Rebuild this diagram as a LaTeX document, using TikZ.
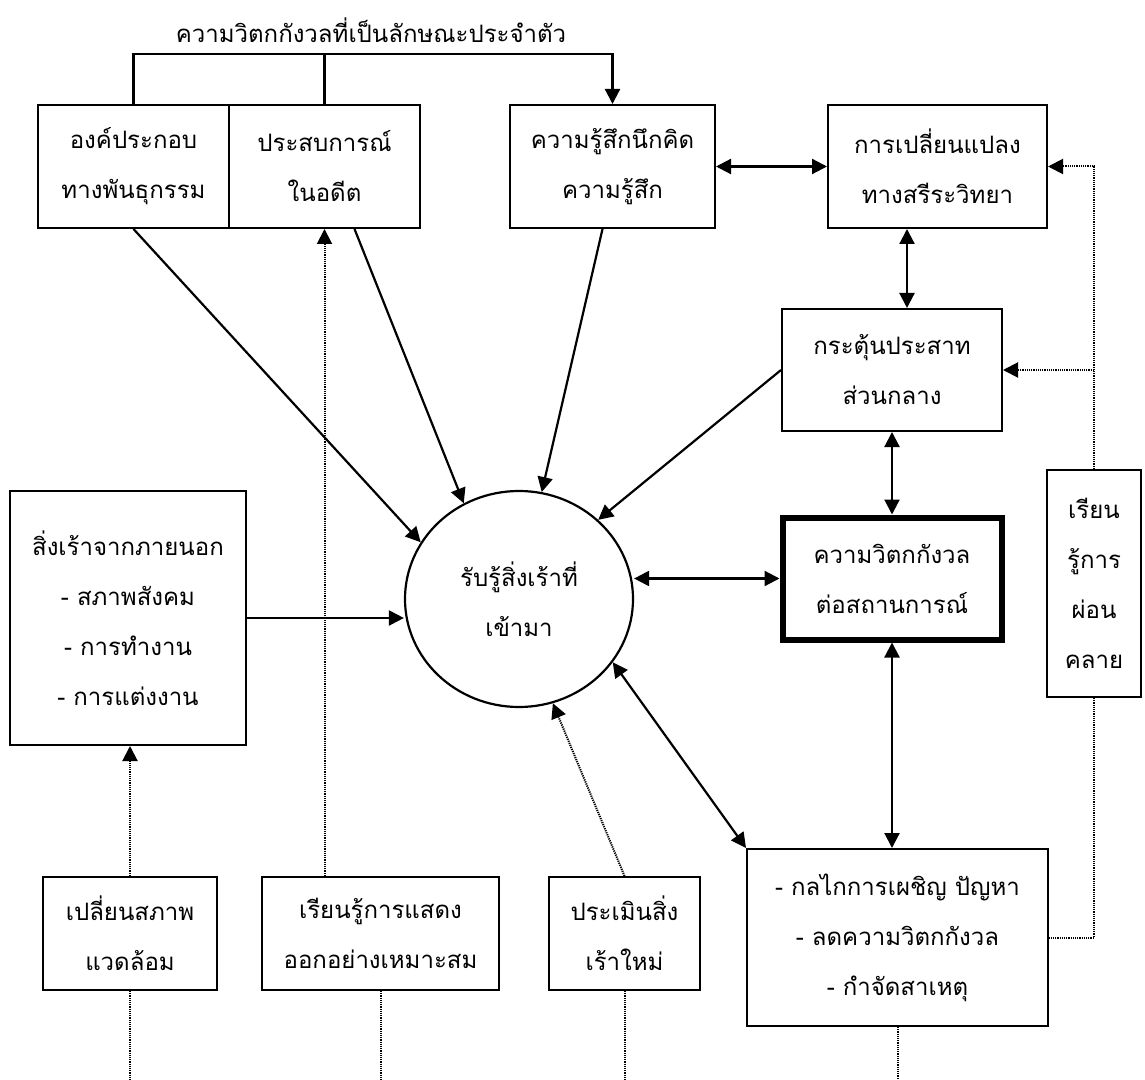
\documentclass[tikz,border=0pt]{standalone}
\usepackage{fontspec}
\newfontfamily\thaifont[Script=Thai]{Loma}
\usetikzlibrary{shapes.geometric,arrows.meta}

\begin{document}
\begin{tikzpicture}[x=0.5pt,y=-0.5pt,
  every node/.style={font=\thaifont\fontsize{12}{25}\selectfont, align=center, inner sep=0pt},%texte en thai
  boite/.style={draw, line width=1pt},%cadres simples
  fleche/.style={line width=1.1pt, -{Triangle[length=7.5pt,width=7.5pt]}},
  deuxsens/.style={line width=1.1pt, {Triangle[length=7.5pt,width=7.5pt]}-{Triangle[length=7.5pt,width=7.5pt]}},
  pointille/.style={dash pattern=on 0.6pt off 0.5pt, line width=1pt},
  pfleche/.style={pointille, -{Triangle[length=7.5pt,width=7.5pt]}}]
\useasboundingbox (0,0) rectangle (1145,1080);

% ligne du haut
\node (titre) at (371,30) {ความวิตกกังวลที่เป็นลักษณะประจำตัว};
\node (b1) at (133.5,166.5) [boite, minimum width=95.5pt, minimum height=61.5pt] {องค์ประกอบ\\ทางพันธุกรรม};
\node (b2) at (324.5,166.5) [boite, minimum width=95.5pt, minimum height=61.5pt] {ประสบการณ์\\ในอดีต};
\node (b3) at (612.5,166.5) [boite, minimum width=102.5pt, minimum height=61.5pt] {ความรู้สึกนึกคิด\\ความรู้สึก};
\node (b4) at (937.5,166.5) [boite, minimum width=109.5pt, minimum height=61.5pt] {การเปลี่ยนแปลง\\ทางสรีระวิทยา};

% milieu
\node (b5) at (892,370) [boite, minimum width=110pt, minimum height=61pt] {กระตุ้นประสาท\\ส่วนกลาง};
\node (anx) at (892,578.5) [draw, line width=3pt, minimum width=109.5pt, minimum height=61pt] {ความวิตกกังวล\\ต่อสถานการณ์};
\node (cercle) at (519,599) [draw, line width=1.1pt, ellipse, minimum width=114pt, minimum height=108pt] {รับรู้สิ่งเร้าที่\\เข้ามา};
\node (ext) at (128,618) [boite, minimum width=118pt, minimum height=127pt] {สิ่งเร้าจากภายนอก\\- สภาพสังคม\\- การทำงาน\\- การแต่งงาน};
\node (relax) at (1094,583.5) [boite, minimum width=47pt, minimum height=113.5pt] {เรียน\\รู้การ\\ผ่อน\\คลาย};

% ligne du bas
\node (env) at (130,933.5) [boite, minimum width=87pt, minimum height=56.5pt] {เปลี่ยนสภาพ\\แวดล้อม};
\node (learn) at (380.5,933.5) [boite, minimum width=118.5pt, minimum height=56.5pt] {เรียนรู้การแสดง\\ออกอย่างเหมาะสม};
\node (eval) at (624.5,933.5) [boite, minimum width=75.5pt, minimum height=56.5pt] {ประเมินสิ่ง\\เร้าใหม่};
\node (coping) at (897.5,937.5) [boite, minimum width=150.5pt, minimum height=88.5pt] {- กลไกการเผชิญ ปัญหา\\- ลดความวิตกกังวล\\- กำจัดสาเหตุ};

% fleches pleines
\draw[fleche] (b1.north) -- ++(0,-50) -| (b3.north);
\draw[line width=1.1pt] (b2.north) -- ++(0,-50);
\draw[deuxsens] (b3.east) -- (b4.west);
\coordinate (h5) at ([xshift=7.5pt]b5.north);
\draw[deuxsens] (h5) -- (h5 |- b4.south);
\draw[deuxsens] (b5.south) -- (anx.north);
\draw[deuxsens] (anx.south) -- (anx.south |- coping.north);
\draw[deuxsens] (cercle.east |- anx.west) -- (anx.west);
\draw[fleche] (ext.east) -- (ext.east -| cercle.west);
\draw[fleche] (b1.south) -- (cercle.150);
\draw[fleche] ([xshift=15pt]b2.south) -- (cercle.120);
\draw[fleche] ([xshift=-5pt]b3.south) -- (cercle.78);
\draw[fleche] (b5.west) -- (cercle.45);
\draw[deuxsens] (cercle.-34) -- (coping.north west);

% pointilles
\draw[pfleche] (eval.north) -- (cercle.-72);
\draw[pfleche] (b2.south |- learn.north) -- (b2.south);
\draw[pfleche] (env.north) -- (env.north |- ext.south);
\draw[pfleche] (relax.north) |- (b4.east);
\draw[pfleche] (relax.north |- b5.east) -- (b5.east);
\draw[pointille] (relax.south) |- (coping.east);
\draw[pointille] (env.south) -- ++(0,90);
\draw[pointille] (learn.south) -- ++(0,90);
\draw[pointille] (eval.south) -- ++(0,90);
\draw[pointille] (coping.south) -- ++(0,54);

\end{tikzpicture}
\end{document}
